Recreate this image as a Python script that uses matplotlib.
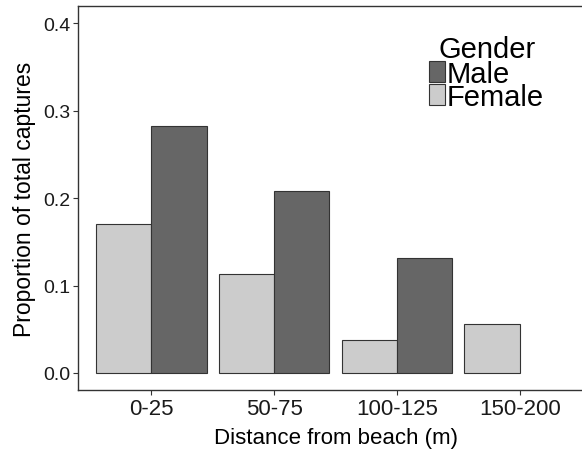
import matplotlib.pyplot as plt
import numpy as np
from matplotlib.patches import Rectangle

plt.rcParams['font.family'] = ['Liberation Sans', 'DejaVu Sans']

# data
distances = ['0-25', '50-75', '100-125', '150-200']
female = [0.170, 0.113, 0.038, 0.056]
male = [0.283, 0.208, 0.132, np.nan]

female_col = '#cccccc'
male_col = '#666666'
edge_col = '#333333'

W, H = 582, 452
fig = plt.figure(figsize=(W / 100, H / 100), dpi=100)
ax = fig.add_axes([0.1335, 0.134, 0.886, 0.8505])

x_pos = np.arange(1, len(distances) + 1)
bar_width = 0.45

ax.bar(x_pos - bar_width / 2, female, bar_width, color=female_col,
       edgecolor=edge_col, linewidth=0.8)
m = np.array(male, dtype=float)
ok = ~np.isnan(m)
ax.bar(x_pos[ok] + bar_width / 2, m[ok], bar_width, color=male_col,
       edgecolor=edge_col, linewidth=0.8)

ax.set_xlim(0.4, 4.6)
ax.set_ylim(-0.02, 0.42)
ax.set_xticks(x_pos)
ax.set_xticklabels(distances, fontsize=16, color='#1a1a1a')
ax.set_yticks([0.0, 0.1, 0.2, 0.3, 0.4])
ax.set_yticklabels(['0.0', '0.1', '0.2', '0.3', '0.4'], fontsize=14,
                   color='#1a1a1a')
ax.tick_params(axis='both', length=3.5, width=0.8, color='#333333', pad=2)

for s in ax.spines.values():
    s.set_color('#333333')
    s.set_linewidth(1.0)

ax.set_xlabel('Distance from beach (m)', fontsize=16, labelpad=6)
ax.set_ylabel('Proportion of total captures', fontsize=16.5, labelpad=5)

# legend drawn by hand (keys overlap the big text as in the original)
def fx(px):
    return px / W

def fy(py):
    return 1 - py / H

fig.text(fx(439), fy(58), 'Gender', fontsize=21, va='baseline', ha='left')
leg_labels = ['Male', 'Female']
leg_cols = [male_col, female_col]
for i, (lab, col) in enumerate(zip(leg_labels, leg_cols)):
    top = 62 + 23 * i
    fig.patches.append(Rectangle((fx(429), fy(top + 21)), fx(16), 21 / H,
                                 transform=fig.transFigure, facecolor=col,
                                 edgecolor=edge_col, linewidth=0.8))
    fig.text(fx(447), fy(top + 21), lab, fontsize=21, va='baseline',
             ha='left')

plt.savefig('out.png', dpi=100)
plt.close()
